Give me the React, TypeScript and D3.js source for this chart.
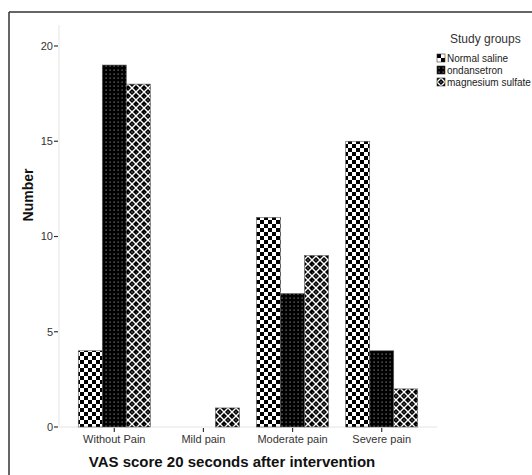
import React from "react";
import * as d3 from "d3";

const categories = ["Without Pain", "Mild pain", "Moderate pain", "Severe pain"];
const groups = ["Normal saline", "ondansetron", "magnesium sulfate"];
const normalSaline = [4, 0, 11, 15];
const ondansetron = [19, 0, 7, 4];
const magnesiumSulfate = [18, 1, 9, 2];
const yTicks = [0, 5, 10, 15, 20];

const seriesValues = [normalSaline, ondansetron, magnesiumSulfate];
const patternIds = ["pat-saline", "pat-ondan", "pat-mag"];

export default function App() {
  const width = 532,
    height = 475;
  const left = 59,
    right = 437,
    bottom = 427,
    top = 46;

  const x0 = d3.scalePoint().domain(categories).range([left, right]).padding(0.62);
  const x1 = d3.scaleBand().domain(groups).range([-36, 36]).padding(0);
  const y = d3.scaleLinear().domain([0, 20]).range([bottom, top]);

  const bars = categories.flatMap((c, ci) =>
    groups.map((g, gi) => ({ c, g, gi, v: seriesValues[gi][ci] }))
  );

  return (
    <svg
      width={width}
      height={height}
      style={{ position: "absolute", left: 0, top: 0, background: "#fff" }}
      fontFamily="Arial, 'Liberation Sans', sans-serif"
    >
      <defs>
        <pattern id="pat-saline" width={8} height={8} patternUnits="userSpaceOnUse">
          <rect width={8} height={8} fill="#fff" />
          <rect width={4} height={4} fill="#000" />
          <rect x={4} y={4} width={4} height={4} fill="#000" />
        </pattern>
        <pattern id="pat-ondan" width={4} height={4} patternUnits="userSpaceOnUse">
          <rect width={4} height={4} fill="#000" />
          <rect x={1.5} y={1.5} width={1.2} height={1.2} fill="#888" />
        </pattern>
        <pattern id="pat-mag" width={8} height={8} patternUnits="userSpaceOnUse">
          <rect width={8} height={8} fill="#000" />
          <path d="M0,4 L4,0 M4,8 L8,4 M0,4 L4,8 M4,0 L8,4" stroke="#fff" strokeWidth={1.4} />
          <rect x={3.4} y={3.4} width={1.2} height={1.2} fill="#999" />
          <rect x={-0.6} y={-0.6} width={1.2} height={1.2} fill="#999" />
        </pattern>
      </defs>

      {/* frame */}
      <line x1={9} y1={12} x2={width} y2={12} stroke="#333" strokeWidth={1.5} />
      <line x1={9} y1={12} x2={9} y2={height} stroke="#333" strokeWidth={1.5} />

      {/* axes lines */}
      <line x1={left} y1={25} x2={left} y2={bottom} stroke="#e4e4e4" />
      <line x1={left} y1={bottom} x2={right} y2={bottom} stroke="#e4e4e4" />

      {yTicks.map((t) => (
        <g key={t}>
          <line x1={left - 5} x2={left - 1} y1={y(t)} y2={y(t)} stroke="#333" strokeWidth={1.2} />
          <text x={left - 6} y={y(t)} dy="0.35em" textAnchor="end" fontSize={11} fill="#333">
            {t}
          </text>
        </g>
      ))}

      {bars.map((b) => {
        const bx = (x0(b.c) as number) + (x1(b.g) as number);
        return b.v > 0 ? (
          <rect
            key={b.c + b.g}
            x={bx}
            y={y(b.v)}
            width={x1.bandwidth()}
            height={bottom - y(b.v)}
            fill={`url(#${patternIds[b.gi]})`}
            stroke="#555"
            strokeWidth={0.6}
          />
        ) : null;
      })}

      {categories.map((c) => (
        <g key={c}>
          <line x1={x0(c)} x2={x0(c)} y1={bottom + 1} y2={bottom + 5} stroke="#333" strokeWidth={1.2} />
          <text x={x0(c)} y={bottom + 16} textAnchor="middle" fontSize={11} fill="#333">
            {c}
          </text>
        </g>
      ))}

      <text x={232} y={467} textAnchor="middle" fontSize={15} fontWeight="bold" fill="#111">
        VAS score 20 seconds after intervention
      </text>
      <text
        transform="translate(33,195) rotate(-90)"
        textAnchor="middle"
        fontSize={14}
        fontWeight="bold"
        fill="#111"
      >
        Number
      </text>

      {/* legend */}
      <text x={450} y={43} fontSize={12} fill="#333">
        Study groups
      </text>
      {groups.map((g, i) => (
        <g key={g} transform={`translate(437,${54 + i * 12})`}>
          <rect width={8} height={8} fill={`url(#${patternIds[i]})`} stroke="#333" strokeWidth={0.6} />
          <text x={10} y={7.5} fontSize={10} fill="#222">
            {g}
          </text>
        </g>
      ))}
    </svg>
  );
}
